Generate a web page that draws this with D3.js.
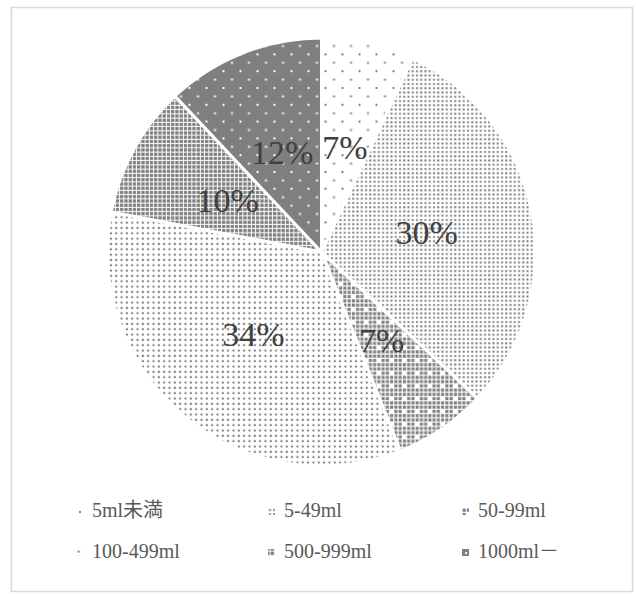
<!DOCTYPE html>
<html><head><meta charset="utf-8">
<script src="https://cdn.jsdelivr.net/npm/d3@7"></script>
<style>
html,body{margin:0;padding:0;background:#fff;}
svg{display:block;}
</style></head>
<body>
<svg id="chart" width="636" height="594"></svg>
<script>
const categories = ["5ml未満", "5-49ml", "50-99ml", "100-499ml", "500-999ml", "1000ml－"];
const values = [7, 30, 7, 34, 10, 12];
const labels = ["7%", "30%", "7%", "34%", "10%", "12%"];

const svg = d3.select("#chart");
const gray = "#7f7f7f";
const fontFamily = "'Liberation Serif','DejaVu Serif','Noto Sans CJK JP',serif";

svg.append("rect").attr("x", 11.5).attr("y", 7.5).attr("width", 621).attr("height", 584)
  .attr("fill", "#fff").attr("stroke", "#d9d9d9").attr("stroke-width", 1.5);

const defs = svg.append("defs");
function pat(id, w, h, bg, draw) {
  const p = defs.append("pattern").attr("id", id).attr("patternUnits", "userSpaceOnUse")
    .attr("width", w).attr("height", h);
  p.append("rect").attr("width", w).attr("height", h).attr("fill", bg);
  draw(p);
}
// 5ml未満: sparse staggered gray dots
pat("p0", 17, 16.8, "#fff", p => {
  p.append("rect").attr("x", 3).attr("y", 3).attr("width", 2).attr("height", 2).attr("fill", gray);
  p.append("rect").attr("x", 11.5).attr("y", 11.4).attr("width", 2).attr("height", 2).attr("fill", gray);
});
// 5-49ml: dense gray dot grid
pat("p1", 4.25, 4.25, "#fff", p => {
  p.append("rect").attr("x", 1).attr("y", 1).attr("width", 2).attr("height", 2).attr("fill", gray);
});
// 50-99ml: gray squares grid with white spots
pat("p2", 12.75, 12.75, "#fff", p => {
  for (let i = 0; i < 3; i++) for (let j = 0; j < 3; j++) {
    if (i === 1 && j === 1) continue;
    p.append("rect").attr("x", i * 4.25 + 0.6).attr("y", j * 4.25 + 0.6)
      .attr("width", 3.1).attr("height", 3.1).attr("fill", gray);
  }
});
// 100-499ml: medium gray dot grid
pat("p3", 5.33, 5.33, "#fff", p => {
  p.append("rect").attr("x", 1.6).attr("y", 1.6).attr("width", 2).attr("height", 2).attr("fill", gray);
});
// 500-999ml: gray with white lattice
pat("p4", 4.25, 4.25, gray, p => {
  p.append("rect").attr("x", 0).attr("y", 1.6).attr("width", 4.25).attr("height", 1).attr("fill", "#fff");
  p.append("rect").attr("x", 1.6).attr("y", 0).attr("width", 1).attr("height", 4.25).attr("fill", "#fff");
});
// 1000ml-: gray with sparse staggered white dots
pat("p5", 17, 16.8, gray, p => {
  p.append("rect").attr("x", 3).attr("y", 3).attr("width", 2).attr("height", 2).attr("fill", "#fff");
  p.append("rect").attr("x", 11.5).attr("y", 11.4).attr("width", 2).attr("height", 2).attr("fill", "#fff");
});

const cx = 321.5, cy = 252, r = 214;
const pie = d3.pie().sort(null).value(d => d);
const arcs = pie(values);
const arc = d3.arc().innerRadius(0).outerRadius(r);
const g = svg.append("g").attr("transform", `translate(${cx},${cy})`);
g.selectAll("path.slice").data(arcs).join("path").attr("class", "slice")
  .attr("d", arc).attr("fill", (d, i) => `url(#p${i})`)
  .attr("stroke", "#fff").attr("stroke-width", 3).attr("stroke-linejoin", "round");

g.selectAll("text.lbl").data(arcs).join("text").attr("class", "lbl")
  .attr("transform", d => { const c = arc.centroid(d); return `translate(${c[0]},${c[1]})`; })
  .attr("text-anchor", "middle").attr("dy", "0.35em")
  .attr("font-family", fontFamily).attr("font-size", 34).attr("fill", "#404040")
  .text((d, i) => labels[i]);

// legend
const colX = d3.scaleOrdinal().domain([0, 1, 2]).range([76, 268, 462]);
const rowY = d3.scaleOrdinal().domain([0, 1]).range([517, 558]);
const leg = svg.append("g").selectAll("g").data(categories).join("g")
  .attr("transform", (d, i) => `translate(${colX(i % 3)},${rowY(Math.floor(i / 3))})`);
leg.append("g").attr("transform", "translate(0,-9)")
  .append("rect").attr("x", 0).attr("y", 0).attr("width", 7).attr("height", 7)
  .attr("fill", (d, i) => `url(#p${i})`);
leg.append("text").attr("x", 16).attr("y", 0)
  .attr("font-family", fontFamily).attr("font-size", 20).attr("fill", "#595959")
  .text(d => d);
</script>
</body></html>
